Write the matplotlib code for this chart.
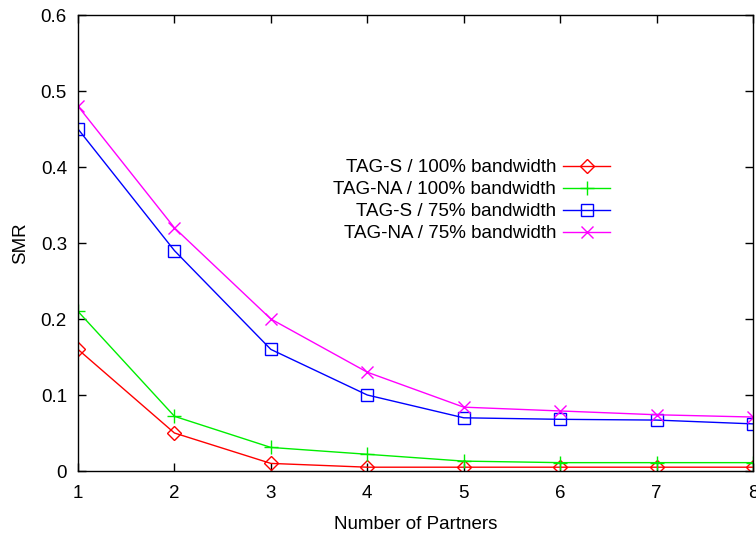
import matplotlib
matplotlib.use("Agg")
import matplotlib.pyplot as plt

partners = [1, 2, 3, 4, 5, 6, 7, 8]
tag_s_100 = [0.16, 0.05, 0.01, 0.005, 0.005, 0.005, 0.005, 0.005]
tag_na_100 = [0.21, 0.072, 0.031, 0.022, 0.013, 0.011, 0.011, 0.011]
tag_s_75 = [0.45, 0.29, 0.16, 0.10, 0.07, 0.068, 0.067, 0.062]
tag_na_75 = [0.48, 0.32, 0.20, 0.13, 0.084, 0.079, 0.074, 0.071]

labels = ["TAG-S / 100% bandwidth", "TAG-NA / 100% bandwidth",
          "TAG-S / 75% bandwidth", "TAG-NA / 75% bandwidth"]
x_ticks = [1, 2, 3, 4, 5, 6, 7, 8]
y_ticks = [0, 0.1, 0.2, 0.3, 0.4, 0.5, 0.6]
y_tick_labels = ["0", "0.1", "0.2", "0.3", "0.4", "0.5", "0.6"]

plt.rcParams["font.family"] = ["Liberation Sans", "DejaVu Sans"]
FS = 13.5

fig = plt.figure(figsize=(7.56, 5.38), dpi=100)
ax = fig.add_axes([78 / 756, 1 - 471 / 538, (753 - 78) / 756, (471 - 15) / 538])

ax.plot(partners, tag_s_100, color="#ff0000", lw=1, marker="D", ms=7,
        mfc="none", mec="#ff0000", mew=1, label=labels[0])
ax.plot(partners, tag_na_100, color="#00ee00", lw=1, marker="+", ms=10,
        mew=1, label=labels[1])
ax.plot(partners, tag_s_75, color="#0000ff", lw=1, marker="s", ms=8.5,
        mfc="none", mec="#0000ff", mew=1, label=labels[2])
ax.plot(partners, tag_na_75, color="#ff00ff", lw=1, marker="x", ms=9,
        mew=1, label=labels[3])

ax.set_xlim(1, 8)
ax.set_ylim(0, 0.6)
ax.set_xticks(x_ticks)
ax.set_yticks(y_ticks)
ax.set_yticklabels(y_tick_labels)
ax.tick_params(direction="in", top=True, right=True, length=6, width=1,
               labelsize=FS)
ax.tick_params(axis="x", pad=10)
ax.tick_params(axis="y", pad=8)
for s in ax.spines.values():
    s.set_linewidth(1)

ax.set_xlabel("Number of Partners", fontsize=FS, labelpad=10)
ax.set_ylabel("SMR", fontsize=FS, labelpad=8)

leg = ax.legend(loc="upper right", bbox_to_anchor=((610 - 78) / 675, 1 - (159 - 15) / 456),
                frameon=False, markerfirst=False, fontsize=FS, handlelength=2.5,
                handletextpad=0.37, labelspacing=0.26, borderpad=0,
                borderaxespad=0, alignment="right")
for t in leg.get_texts():
    t.set_ha("right")

fig.savefig("out.png", dpi=100)
